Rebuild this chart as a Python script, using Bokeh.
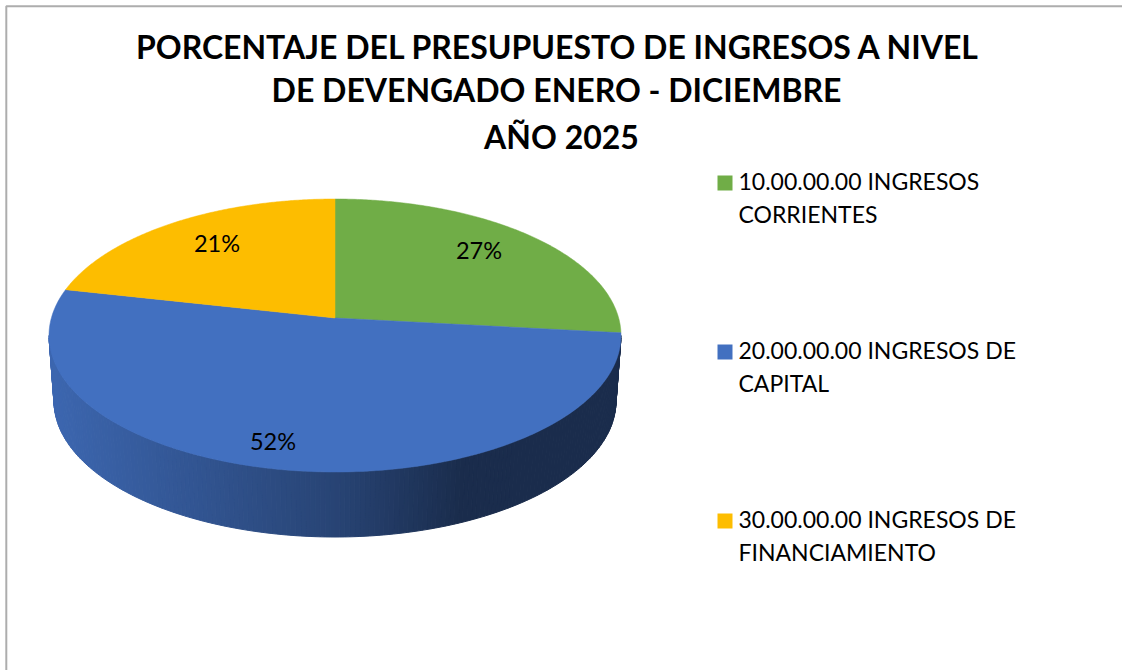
import math
import textwrap
import numpy as np
from bokeh.plotting import figure
from bokeh.core.properties import value
from bokeh.embed import file_html
from bokeh.resources import INLINE

# ---- data ----
title_lines = ["PORCENTAJE DEL PRESUPUESTO DE INGRESOS A NIVEL",
               "DE DEVENGADO ENERO - DICIEMBRE",
               "AÑO 2025"]
categories = ["10.00.00.00 INGRESOS CORRIENTES",
              "20.00.00.00 INGRESOS DE CAPITAL",
              "30.00.00.00 INGRESOS DE FINANCIAMIENTO"]
shares = [27, 52, 21]
colors = ["#70AD47", "#4270C0", "#FDBD00"]

# ---- layout (pixel-like plot coordinates) ----
W, H = 1122, 670
CX, CY, RX, RY = 334.5, 335.0, 286.0, 136.5     # top face ellipse
BX, BY, BRX, BRY = 334.5, 400.5, 281.0, 136.0   # bottom rim ellipse
AX, AY = 334.5, 317.5                           # apex of the slices
K = 0.41                                        # foreshortening of slice rays
FONT = "Lato"
label_xy = [(478.5, 249), (272.5, 440), (216.5, 242)]
legend_x, legend_ys = 717, [180, 349, 518]
legend_text_x = 738
title_xs, title_ys = [558, 556, 561], [46, 89, 136]

p = figure(width=W, height=H, x_range=(0, W), y_range=(H, 0),
           toolbar_location=None, output_backend="svg", min_border=0,
           margin=(0, 0, 0, 0), background_fill_color="white",
           border_fill_color="white", outline_line_color=None)
p.axis.visible = False
p.xaxis.visible = False
p.yaxis.visible = False
p.grid.visible = False


def rim_angle(deg):
    """Ellipse parameter (deg clockwise from top) of the rim point on the ray for a true pie angle."""
    t = math.radians(deg)
    dx, dy = math.sin(t), -K * math.cos(t)
    ox, oy = (AX - CX) / RX, (AY - CY) / RY
    ux, uy = dx / RX, dy / RY
    a = ux * ux + uy * uy
    b = 2 * (ox * ux + oy * uy)
    c = ox * ox + oy * oy - 1
    s = (-b + math.sqrt(b * b - 4 * a * c)) / (2 * a)
    x, y = ox + s * ux, oy + s * uy
    ang = math.degrees(math.atan2(x, -y))
    # keep the winding continuous with the requested angle
    while ang < deg - 180:
        ang += 360
    while ang > deg + 180:
        ang -= 360
    return ang


def shade(col, x):
    f = np.interp(x, [49, 335, 460, 621], [0.92, 0.61, 0.40, 0.40])
    r, g, b = int(col[1:3], 16), int(col[3:5], 16), int(col[5:7], 16)
    return "#%02x%02x%02x" % (int(r * f), int(g * f), int(b * f))


cum = np.cumsum([0] + shares) / sum(shares) * 360.0

# sides: strips between the top rim and the bottom rim
for i, col in enumerate(colors):
    a0, a1 = rim_angle(cum[i]), rim_angle(cum[i + 1])
    lo, hi = max(a0, 90.0), min(a1, 270.0)
    if hi <= lo:
        continue
    angs = np.linspace(lo, hi, 181)
    xs, ys, cs = [], [], []
    for u, v in zip(angs[:-1], angs[1:]):
        ur, vr = math.radians(u), math.radians(v)
        qx = [CX + RX * math.sin(ur), CX + RX * math.sin(vr),
              BX + BRX * math.sin(vr), BX + BRX * math.sin(ur)]
        qy = [CY - RY * math.cos(ur), CY - RY * math.cos(vr),
              BY - BRY * math.cos(vr), BY - BRY * math.cos(ur)]
        xs.append(qx)
        ys.append(qy)
        cs.append(shade(col, sum(qx) / 4))
    p.patches(xs, ys, fill_color=cs, line_color=cs, line_width=1)

# top faces
for i, col in enumerate(colors):
    a0, a1 = rim_angle(cum[i]), rim_angle(cum[i + 1])
    angs = np.radians(np.linspace(a0, a1, 200))
    px = np.concatenate([[AX], CX + RX * np.sin(angs)])
    py = np.concatenate([[AY], CY - RY * np.cos(angs)])
    p.patch(px, py, fill_color=col, line_color=col, line_width=0.5)

# percentage labels
p.text([xy[0] for xy in label_xy], [xy[1] for xy in label_xy],
       text=[f"{s}%" for s in shares], text_font=value(FONT),
       text_font_size="23.5px", text_color="#000000",
       text_align="center", text_baseline="middle")

# legend
for cat, col, ly in zip(categories, colors, legend_ys):
    p.scatter([legend_x + 7.5], [ly + 2.5], marker="square", size=15,
              fill_color=col, line_color=None)
    for n, line in enumerate(textwrap.wrap(cat, 23)):
        p.text([legend_text_x], [ly + n * 33], text=[line], text_font=value(FONT),
               text_font_size="23px", text_color="#000000",
               text_align="left", text_baseline="middle")

# title
p.text(title_xs, title_ys, text=title_lines, text_font=value(FONT),
       text_font_style="bold", text_font_size="32px", text_color="#000000",
       text_align="center", text_baseline="middle")

# chart frame
p.line([W, 5.8, 5.8], [5.8, 5.8, H], line_color="#ADADAD", line_width=2)

open("out.html", "w").write(file_html(p, INLINE))
